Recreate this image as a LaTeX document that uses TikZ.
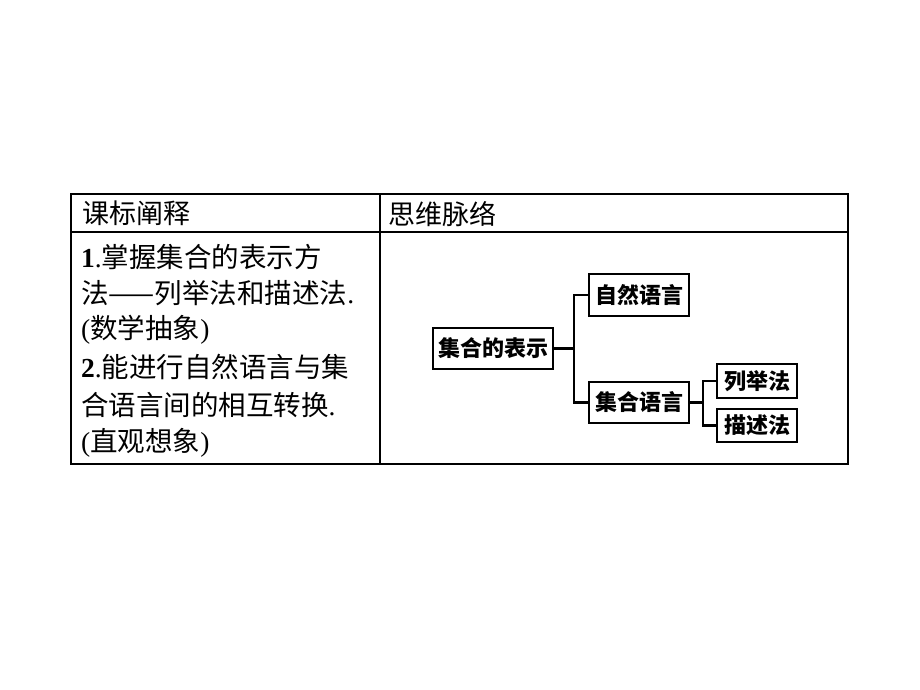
\documentclass[tikz,border=0pt]{standalone}
\usepackage{fontspec}
\setmainfont{Liberation Serif}
\newfontfamily\lat{Liberation Serif}
\newfontfamily\cjk{Noto Sans CJK SC}
\begin{document}
\begin{tikzpicture}[x=1pt,y=-1pt,
  grid/.style={line width=1.4pt},
  box/.style={draw, line width=2.3pt, inner sep=0pt, font=\fontsize{22}{24}\selectfont\cjk\bfseries},
  conn/.style={line width=2.5pt},
  body/.style={anchor=west, inner sep=0pt, font=\fontsize{27.5}{30}\selectfont\cjk},
  head/.style={anchor=west, inner sep=0pt, font=\fontsize{27}{30}\selectfont\cjk}]
\path[use as bounding box, fill=white] (0,0) rectangle (920,690);
% table
\draw[grid] (71,194) rectangle (848,464);
\draw[grid] (71,232) -- (848,232);
\draw[grid] (380,194) -- (380,464);
% headers
\node[head] (h1) at (82,213) {课标阐释};
\node[head] (h2) at (388,214) {思维脉络};
% left text
\node[body] (l1) at (81,257) {{\lat\bfseries 1}{\lat .}掌握集合的表示方};
\node[body] (l2) at (81,293) {法——列举法和描述法{\lat .}};
\node[body] (l3) at (81,330) {{\lat (}数学抽象{\lat )}};
\node[body] (l4) at (81,367) {{\lat\bfseries 2}{\lat .}能进行自然语言与集};
\node[body] (l5) at (81,405) {合语言间的相互转换{\lat .}};
\node[body] (l6) at (81,443) {{\lat (}直观想象{\lat )}};
% mind map
\node[box, minimum width=120pt, minimum height=41pt] (A) at (493,348.5) {集合的表示};
\node[box, minimum width=100pt, minimum height=42pt] (B) at (639,295) {自然语言};
\node[box, minimum width=100pt, minimum height=41pt] (C) at (639,402.5) {集合语言};
\node[box, minimum width=80pt, minimum height=34pt] (D) at (757,381) {列举法};
\node[box, minimum width=80pt, minimum height=33pt] (E) at (757,425.5) {描述法};
\draw[conn] (A.east) -- ++(20,0) |- (B.west);
\draw[conn] (A.east) -- ++(20,0) |- (C.west);
\draw[conn] (C.east) -- ++(13,0) |- (D.west);
\draw[conn] (C.east) -- ++(13,0) |- (E.west);
\end{tikzpicture}
\end{document}
